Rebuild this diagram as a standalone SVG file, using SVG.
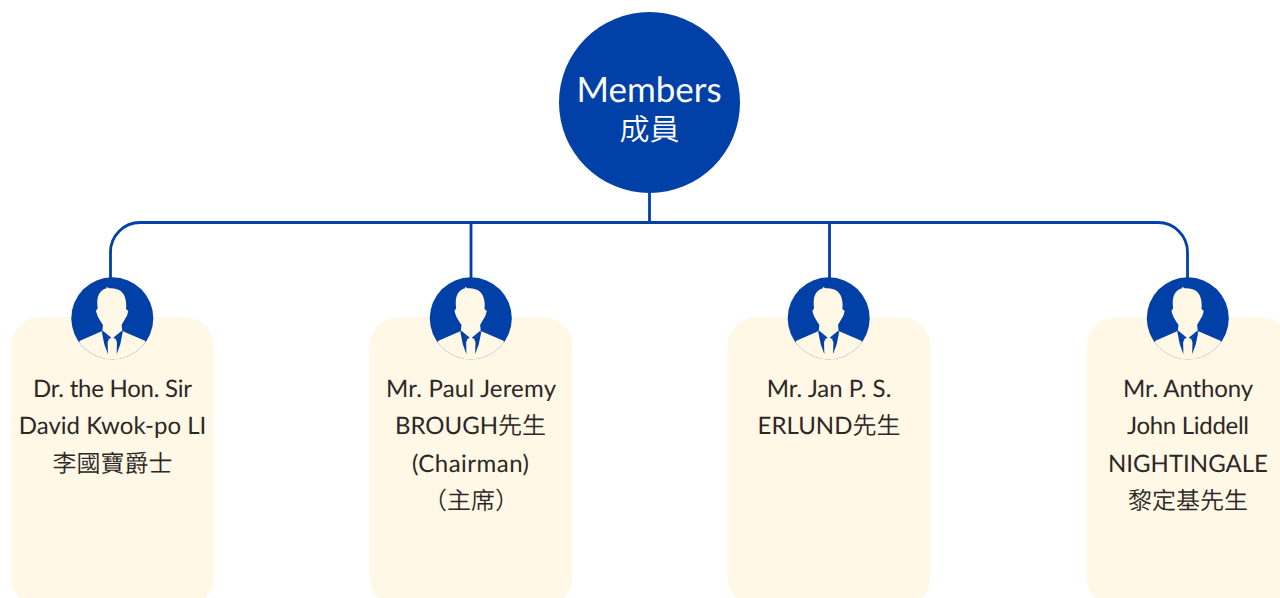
<svg xmlns="http://www.w3.org/2000/svg" width="1280" height="598" viewBox="0 0 1280 598">
<style>
.card{fill:#fff8e6}
.disc{fill:#0140a7}
.cream{fill:#fff8e6}
.n{font-family:"Lato","Noto Sans CJK TC",sans-serif;font-size:24px;fill:#2b2523;text-anchor:middle;text-rendering:geometricPrecision;opacity:.99}
.t{font-family:"Lato","Noto Sans CJK TC",sans-serif;fill:#fff;text-anchor:middle;text-rendering:geometricPrecision;opacity:.99}
.h{font-weight:350}
.c{fill:none;stroke:#0140a7;stroke-width:2.800}
</style>
<defs>
<clipPath id="cp"><circle cx="0" cy="0" r="123"/></clipPath>
<g id="avatar">
<circle class="disc" cx="0" cy="0" r="41"/>
<g transform="scale(.3333)" clip-path="url(#cp)">
<path class="cream" d="M-17,-95 L-10,-90 C12,-92 38,-84 41,-50 C42,-42 42,-36 41,-28 L48,-22 L44,-8 C38,2 32,12 28,20 L30,38 L98,67 L130,130 L-130,130 L-97,67 L-30,38 L-28,20 C-34,12 -40,2 -44,-6 L-49,-22 L-44,-30 C-48,-60 -42,-84 -17,-90 Z"/>
<path class="disc" d="M-32,38 L-10,62 L-14,72 L-13,108 L-24,78 Z M32,38 L10,62 L14,72 L13,108 L24,78 Z"/>
<path class="disc" d="M-30,36 L-3,58 L-10,62 L-29,44 Z M30,36 L3,58 L10,62 L29,44 Z"/>
</g>
</g>
</defs>
<g id="connectors">
<path class="c" d="M649.500,190 V222.500 M110.500,278 V252 A29.500,29.500 0 0 1 140,222.500 H1158 A29.500,29.500 0 0 1 1187.500,252 V278 M471,222.500 V278 M829.500,222.500 V278"/>
</g>
<g id="root">
<circle class="disc" cx="649.500" cy="102.500" r="90.500"/>
<text class="t" x="649" y="102" font-size="35">Members</text>
<text class="t h" x="649.500" y="140" font-size="30">成員</text>
</g>
<g id="member1">
<rect class="card" x="11" y="317" width="203" height="290" rx="30"/>
<use href="#avatar" x="112.300" y="318.300"/>
<text class="n" x="112.500" y="397" textLength="159" lengthAdjust="spacing">Dr. the Hon. Sir</text>
<text class="n" x="112.500" y="434">David Kwok-po LI</text>
<text class="n h" x="112.500" y="471.500">李國寶爵士</text>
</g>
<g id="member2">
<rect class="card" x="369.500" y="317" width="203" height="290" rx="30"/>
<use href="#avatar" x="470.800" y="318.300"/>
<text class="n" x="471" y="397" textLength="170" lengthAdjust="spacing">Mr. Paul Jeremy</text>
<text class="n" x="470.500" y="434">BROUGH<tspan class="h">先生</tspan></text>
<text class="n" x="470.500" y="471.500" textLength="117" lengthAdjust="spacing">(Chairman)</text>
<text class="n h" x="471" y="508.500">（主席）</text>
</g>
<g id="member3">
<rect class="card" x="727.500" y="317" width="203" height="290" rx="30"/>
<use href="#avatar" x="828.700" y="318.300"/>
<text class="n" x="829" y="397">Mr. Jan P. S.</text>
<text class="n" x="829" y="434">ERLUND<tspan class="h">先生</tspan></text>
</g>
<g id="member4">
<rect class="card" x="1086.500" y="317" width="203" height="290" rx="30"/>
<use href="#avatar" x="1187.800" y="318.300"/>
<text class="n" x="1188" y="397" textLength="130" lengthAdjust="spacing">Mr. Anthony</text>
<text class="n" x="1188" y="434" textLength="122" lengthAdjust="spacing">John Liddell</text>
<text class="n" x="1188" y="471.500">NIGHTINGALE</text>
<text class="n h" x="1188" y="508.500">黎定基先生</text>
</g>
</svg>
